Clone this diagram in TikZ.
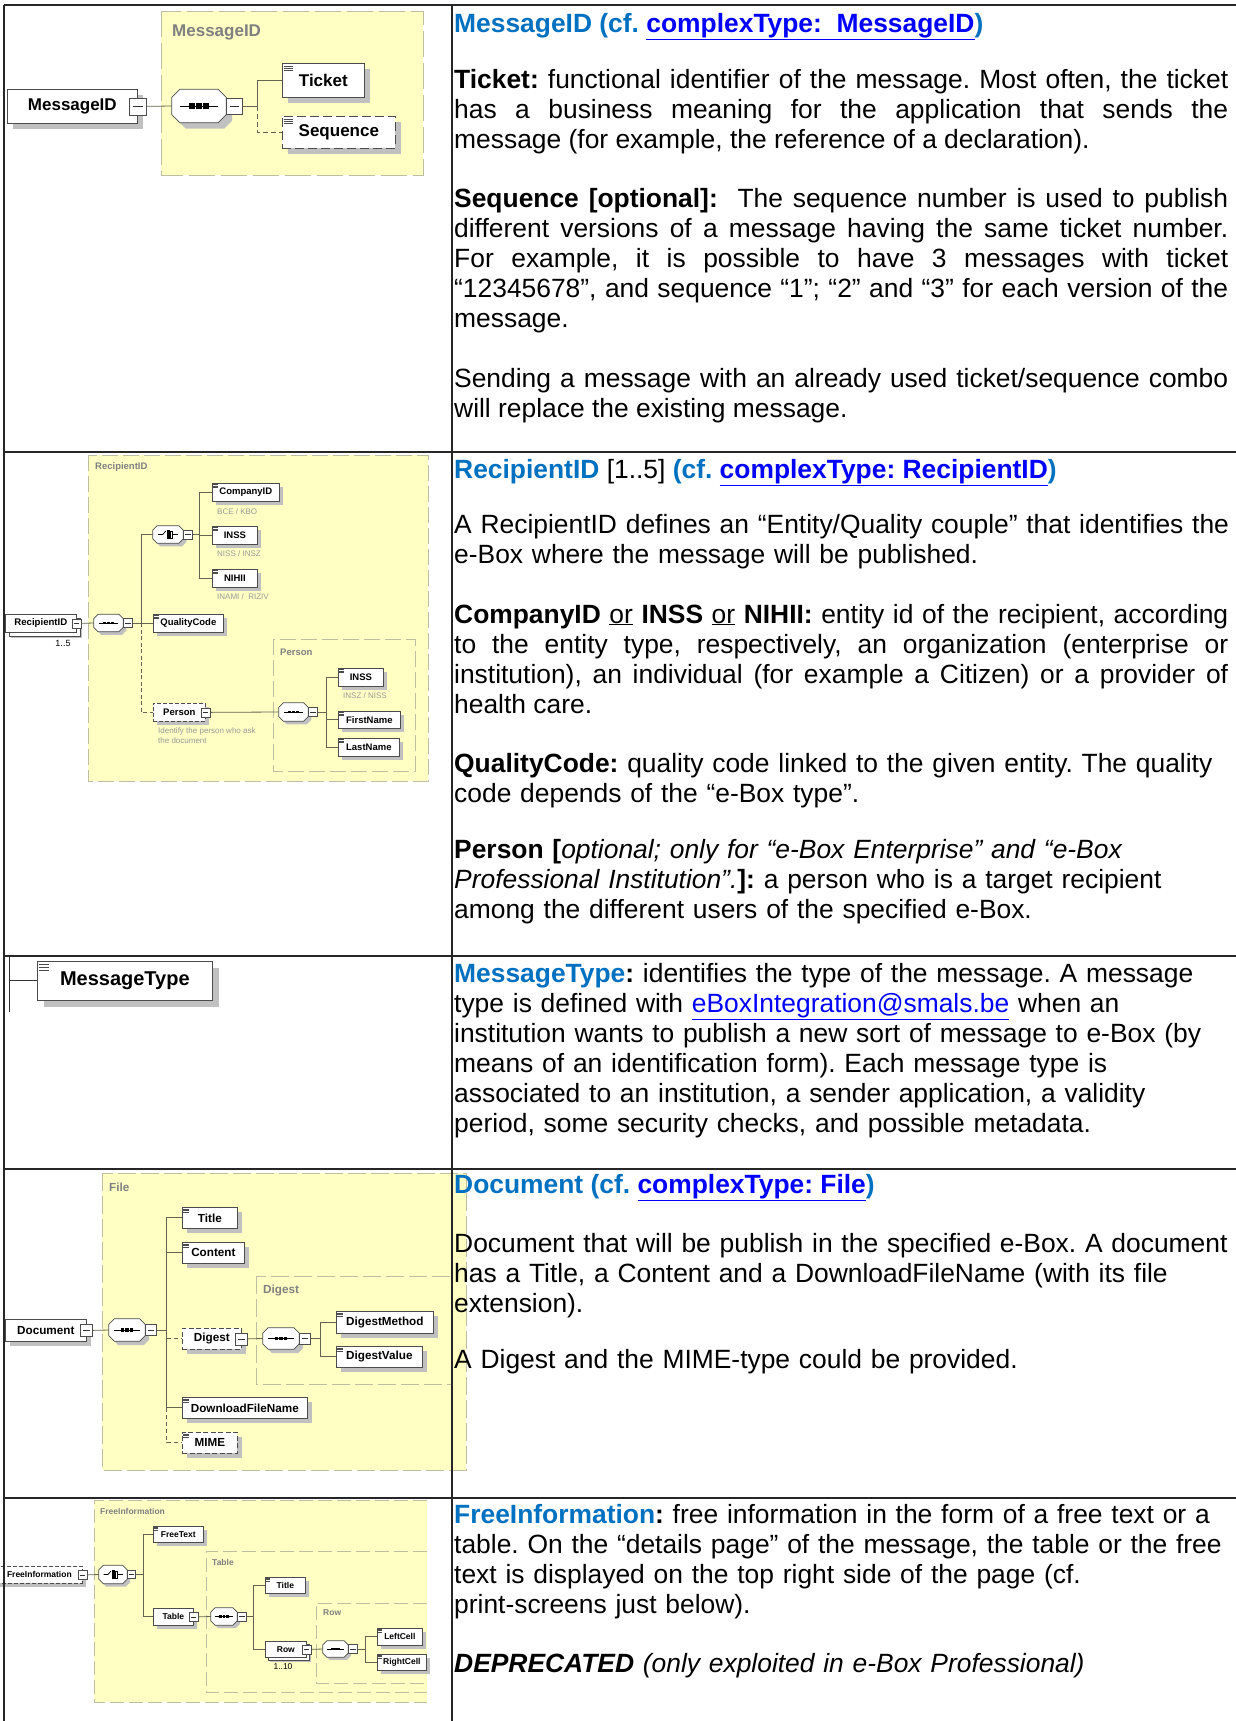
\documentclass[tikz,border=0pt]{standalone}
\usepackage{fontspec}
\setmainfont{Liberation Sans}
\usetikzlibrary{shadows,calc}
\frenchspacing
\hyphenpenalty=10000
\exhyphenpenalty=10000

\definecolor{xsdyellow}{RGB}{255,255,196}
\definecolor{xsdframe}{RGB}{190,190,160}
\definecolor{xsdline}{RGB}{100,100,80}
\definecolor{xsdshade}{RGB}{192,192,192}
\definecolor{xsdgrey}{RGB}{128,128,128}
\definecolor{titleblue}{RGB}{0,112,192}
\definecolor{linkblue}{RGB}{0,0,255}

\tikzset{
  region/.style={fill=xsdyellow, draw=xsdframe, line width=.8pt},
  subregion/.style={draw=xsdframe, line width=.8pt},
  regtitle/.style={anchor=west, inner sep=0pt, text=xsdgrey, font=\bfseries\fontsize{#1}{#1}\selectfont},
  elem/.style={draw=black!70, fill=white, line width=.7pt, inner sep=0pt, anchor=north west,
    font=\bfseries\fontsize{#1}{#1}\selectfont},
  shad/.style={drop shadow={shadow xshift=#1, shadow yshift=-#1, opacity=1, fill=xsdshade}},
  many/.style={copy shadow={shadow xshift=#1, shadow yshift=-#1, draw=black!70, fill=white, line width=.6pt}},
  minus/.style={draw=black!70, fill=white, line width=.6pt, inner sep=0pt, minimum size=#1,
    path picture={\draw[black!80, line width=.6pt]
      ($(path picture bounding box.west)!.2!(path picture bounding box.east)$) --
      ($(path picture bounding box.west)!.8!(path picture bounding box.east)$);}},
  comp/.style={inner sep=0pt},
  wire/.style={draw=xsdline, line width=.8pt},
  note/.style={anchor=west, inner sep=0pt, text=black!40, font=\fontsize{#1}{#1}\selectfont},
  count/.style={inner sep=0pt, font=\fontsize{#1}{#1}\selectfont},
  tbl/.style={line width=2pt, black!85},
  para/.style={anchor=base west, inner sep=0pt, text width=774pt, align=justify,
    font=\fontsize{26.4}{30}\selectfont},
  ragged/.style={para, text width=900pt, align=left},
}

% three-bar mark of a simple element
\newcommand\eqm[2]{%
  \begin{scope}[shift={(#1.north west)}, scale=#2]
    \foreach \k in {0,1,2}
      \draw[black!70, line width=.5pt] (1.5,3+2.3*\k) -- (10.5,3+2.3*\k);
  \end{scope}}
% octagon of a compositor: node, chamfer, scale
\newcommand\compbox[3]{%
  \filldraw[draw=black!70, fill=white, line width=.7pt,
    drop shadow={shadow xshift=6pt*#3, shadow yshift=-6pt*#3, opacity=1, fill=xsdshade}]
    ([xshift=#2]#1.north west) -- ([xshift=-#2]#1.north east) -- ([yshift=-#2]#1.north east)
    -- ([yshift=#2]#1.south east) -- ([xshift=-#2]#1.south east) -- ([xshift=#2]#1.south west)
    -- ([yshift=#2]#1.south west) -- ([yshift=-#2]#1.north west) -- cycle;}
\newcommand\seqsym[3]{%
  \compbox{#1}{#2}{#3}
  \begin{scope}[shift={(#1.center)}, scale=#3]
    \draw[black, line width=.7pt] (-19,0) -- (19,0);
    \foreach \q in {-7,0,7}
      \fill[black] (\q-2.7,-2.7) rectangle (\q+2.7,2.7);
  \end{scope}}
\newcommand\choicesym[3]{%
  \compbox{#1}{#2}{#3}
  \begin{scope}[shift={(#1.center)}, scale=#3]
    \draw[black, line width=.7pt] (-19,0) -- (-10,0) -- (-4,-7);
    \draw[black, line width=.7pt] (-1,-9) -- (-1,9);
    \foreach \q in {-6,0,6}
      \fill[black] (-1,\q-2.4) rectangle (4,\q+2.4);
    \draw[black, line width=.7pt] (4,-7) rectangle (8,7);
    \draw[black, line width=.7pt] (8,0) -- (19,0);
  \end{scope}}

\begin{document}
\begin{tikzpicture}[x=1pt, y=-1pt]
  \useasboundingbox (0,0) rectangle (1236,1721);

  % ---- MessageID
  \filldraw[region, dash pattern=on 26pt off 6pt] (161,11) rectangle (423,175);
  \node[regtitle=17] (msgT) at (172,32) {MessageID};
  \node[elem=17, shad=6pt, minimum width=130pt, minimum height=34pt] (msg) at (7,89) {MessageID\hspace{8pt}};
  \node[minus=17pt] (msgM) at (msg.east) {};
  \node[comp, minimum width=54pt, minimum height=33pt] (msgS) at (199,106) {};
  \seqsym{msgS}{8pt}{1}
  \node[minus=16pt, anchor=west] (msgSM) at (msgS.east) {};
  \node[elem=17, shad=6pt, minimum width=82pt, minimum height=34pt] (ticket) at (282,63) {Ticket};
  \eqm{ticket}{1}
  \node[elem=17, shad=6pt, dash pattern=on 9pt off 4pt, minimum width=113pt, minimum height=32pt] (sqn) at (282,116) {Sequence};
  \eqm{sqn}{1}
  \draw[wire] (msgM.east) -- (msgS.west);
  \draw[wire] (msgSM.east) -- ++(15,0) coordinate (busA) |- (ticket.west);
  \draw[wire, dash pattern=on 5pt off 3pt] (busA) |- (sqn.west);

  % ---- RecipientID
  \filldraw[region, dash pattern=on 16pt off 5pt] (88,455) rectangle (428,781);
  \node[regtitle=9.5] (ridT) at (95,467) {RecipientID};
  \draw[subregion, dash pattern=on 16pt off 5pt] (273,639) rectangle (415,771);
  \node[regtitle=9.5] (perT) at (280,652) {Person};
  \node[elem=9.6, shad=6pt, many=3.5pt, minimum width=71pt, minimum height=18pt] (rid) at (5,614) {RecipientID};
  \node[minus=9pt] (ridM) at (rid.east) {};
  \node[count=9] (ridN) at (63,643) {1..5};
  \node[comp, minimum width=29pt, minimum height=17pt] (ridS) at (108.5,623) {};
  \seqsym{ridS}{4.2pt}{.52}
  \node[minus=9pt, anchor=west] (ridSM) at (ridS.east) {};
  \node[comp, minimum width=30pt, minimum height=17pt] (ridC) at (168,534.5) {};
  \choicesym{ridC}{4.2pt}{.52}
  \node[minus=9pt, anchor=west] (ridCM) at (ridC.east) {};
  \node[elem=9.5, shad=4pt, minimum width=67pt, minimum height=18pt] (cid) at (212,483) {CompanyID};
  \eqm{cid}{.55}
  \node[note=8] (cidN) at (217,512) {BCE / KBO};
  \node[elem=9.5, shad=4pt, minimum width=45pt, minimum height=18pt] (inss) at (212,526) {INSS};
  \eqm{inss}{.55}
  \node[note=8] (inssN) at (217,554) {NISS / INSZ};
  \node[elem=9.5, shad=4pt, minimum width=45pt, minimum height=18pt] (nihii) at (212,569) {NIHII};
  \eqm{nihii}{.55}
  \node[note=8] (nihiiN) at (217,597) {INAMI /\ \ RIZIV};
  \node[elem=9.5, shad=4pt, minimum width=70pt, minimum height=18pt] (qcode) at (153,614) {QualityCode};
  \eqm{qcode}{.55}
  \node[elem=9.5, shad=4pt, dash pattern=on 4pt off 2pt, minimum width=52pt, minimum height=18pt] (pers) at (153,703) {Person};
  \node[minus=9pt] (persM) at (pers.east) {};
  \node[note=8] (persN1) at (158,731) {Identify the person who ask};
  \node[note=8] (persN2) at (158,741) {the document};
  \node[comp, minimum width=29pt, minimum height=18pt] (persS) at (293.5,712) {};
  \seqsym{persS}{4.5pt}{.52}
  \node[minus=9pt, anchor=west] (persSM) at (persS.east) {};
  \node[elem=9.5, shad=4pt, minimum width=45pt, minimum height=18pt] (pinss) at (338,668) {INSS};
  \eqm{pinss}{.55}
  \node[note=8] (pinssN) at (343,696) {INSZ / NISS};
  \node[elem=9.5, shad=4pt, minimum width=62pt, minimum height=17pt] (fname) at (338,711) {FirstName};
  \eqm{fname}{.55}
  \node[elem=9.5, shad=4pt, minimum width=61pt, minimum height=18pt] (lname) at (338,738) {LastName};
  \eqm{lname}{.55}
  \draw[wire] (ridM.east) -- (ridS.west);
  \draw[wire] (ridSM.east) -- ++(9,0) coordinate (busB) |- (ridC.west);
  \draw[wire] (busB) |- (qcode.west);
  \draw[wire, dash pattern=on 4pt off 2.5pt] (busB) |- (pers.west);
  \draw[wire] (ridCM.east) -- ++(7,0) coordinate (busC) |- (cid.west);
  \draw[wire] (busC) |- (inss.west);
  \draw[wire] (busC) |- (nihii.west);
  \draw[wire] (persM.east) -- (persS.west);
  \draw[wire] (persSM.east) -- ++(9,0) coordinate (busD) |- (pinss.west);
  \draw[wire] (busD) |- (fname.west);
  \draw[wire] (busD) |- (lname.west);

  % ---- MessageType
  \coordinate (mtTop) at (9,956);
  \coordinate (mtBot) at (9,1012);
  \node[elem=20, shad=7pt, minimum width=175pt, minimum height=39pt] (mtype) at (37,961) {MessageType};
  \eqm{mtype}{1.15}
  \draw[wire, black!80] (mtTop) -- (mtBot);
  \draw[wire, black!80] (mtTop |- mtype.west) -- (mtype.west);

  % ---- Document
  \filldraw[region, dash pattern=on 18pt off 5pt] (102,1173) rectangle (466,1470);
  \node[regtitle=11.7] (fileT) at (109,1187) {File};
  \draw[subregion, dash pattern=on 18pt off 5pt] (256,1276) rectangle (452,1384);
  \node[regtitle=11.7] (digT) at (263,1290) {Digest};
  \node[elem=11.7, shad=5pt, minimum width=81pt, minimum height=22pt] (doc) at (5,1319) {Document};
  \node[minus=12pt] (docM) at (doc.east) {};
  \node[comp, minimum width=36pt, minimum height=22pt] (docS) at (127,1330) {};
  \seqsym{docS}{5.5pt}{.66}
  \node[minus=11pt, anchor=west] (docSM) at (docS.east) {};
  \node[elem=11.7, shad=5pt, minimum width=55pt, minimum height=21pt] (ftitle) at (182,1207) {Title};
  \eqm{ftitle}{.65}
  \node[elem=11.7, shad=5pt, minimum width=62pt, minimum height=21pt] (fcont) at (182,1242) {Content};
  \eqm{fcont}{.65}
  \node[elem=11.7, shad=5pt, dash pattern=on 5pt off 2.5pt, minimum width=59pt, minimum height=21pt] (dig) at (182,1328) {Digest};
  \node[minus=12pt] (digM) at (dig.east) {};
  \node[comp, minimum width=36pt, minimum height=21pt] (digS) at (281,1338.5) {};
  \seqsym{digS}{5.2pt}{.66}
  \node[minus=11pt, anchor=west] (digSM) at (digS.east) {};
  \node[elem=11.7, shad=5pt, minimum width=97pt, minimum height=22pt] (dmeth) at (336,1311) {DigestMethod};
  \eqm{dmeth}{.65}
  \node[elem=11.7, shad=5pt, minimum width=86pt, minimum height=21pt] (dval) at (336,1346) {DigestValue};
  \eqm{dval}{.65}
  \node[elem=11.7, shad=5pt, minimum width=125pt, minimum height=21pt] (dfn) at (182,1397) {DownloadFileName};
  \eqm{dfn}{.65}
  \node[elem=11.7, shad=5pt, dash pattern=on 5pt off 2.5pt, minimum width=55pt, minimum height=21pt] (mime) at (182,1432) {MIME};
  \eqm{mime}{.65}
  \draw[wire] (docM.east) -- (docS.west);
  \draw[wire] (docSM.east) -- ++(10,0) coordinate (busF) |- (ftitle.west);
  \draw[wire] (busF) |- (fcont.west);
  \draw[wire] (busF) |- (dfn.west);
  \draw[wire, dash pattern=on 4pt off 3pt] (busF |- dig.west) -- (dig.west);
  \draw[wire, dash pattern=on 4pt off 3pt] (busF |- dfn.west) |- (mime.west);
  \draw[wire] (digM.east) -- (digS.west);
  \draw[wire] (digSM.east) -- ++(10,0) coordinate (busG) |- (dmeth.west);
  \draw[wire] (busG) |- (dval.west);

  % ---- FreeInformation
  \fill[xsdyellow] (94,1500) rectangle (427,1702);
  \draw[subregion, dash pattern=on 14pt off 5pt] (427,1500) -- (94,1500) -- (94,1702) -- (427,1702);
  \node[regtitle=8.5] (finT) at (100,1511) {FreeInformation};
  \draw[subregion, dash pattern=on 14pt off 5pt] (427,1551) -- (206,1551) -- (206,1692) -- (427,1692);
  \node[regtitle=8.5] (tabT) at (212,1562) {Table};
  \draw[subregion, dash pattern=on 14pt off 5pt] (427,1603) -- (316,1603) -- (316,1683) -- (427,1683);
  \node[regtitle=8.5] (rowT) at (323,1613) {Row};
  \node[elem=8.5, shad=3.5pt, dash pattern=on 4pt off 2pt, minimum width=86pt, minimum height=17pt] (finfo) at (-4,1566) {FreeInformation};
  \node[minus=9pt] (finfoM) at (finfo.east) {};
  \node[comp, minimum width=28pt, minimum height=18pt] (finC) at (113,1574.5) {};
  \choicesym{finC}{4.5pt}{.5}
  \node[minus=8pt, anchor=west] (finCM) at (finC.east) {};
  \node[elem=8.5, shad=3.5pt, minimum width=50pt, minimum height=16pt] (ftext) at (153,1526) {FreeText};
  \eqm{ftext}{.5}
  \node[elem=8.5, shad=3.5pt, minimum width=40pt, minimum height=17pt] (ftab) at (153,1608) {Table};
  \node[minus=9pt] (ftabM) at (ftab.east) {};
  \node[comp, minimum width=26pt, minimum height=17pt] (tabS) at (224,1616.5) {};
  \seqsym{tabS}{4.2pt}{.48}
  \node[minus=9pt, anchor=west] (tabSM) at (tabS.east) {};
  \node[elem=8.5, shad=3.5pt, minimum width=40pt, minimum height=16pt] (ttitle) at (265,1577) {Title};
  \eqm{ttitle}{.5}
  \node[elem=8.5, shad=5pt, many=3pt, minimum width=41pt, minimum height=16pt] (trow) at (265,1641) {Row\hspace{6pt}};
  \node[minus=9pt] (trowM) at (trow.east) {};
  \node[count=8.5] (trowN) at (283,1667) {1..10};
  \node[comp, minimum width=25pt, minimum height=16pt] (rowS) at (335.5,1649) {};
  \seqsym{rowS}{4pt}{.46}
  \node[minus=9pt, anchor=west] (rowSM) at (rowS.east) {};
  \node[elem=8.5, shad=3.5pt, minimum width=45pt, minimum height=17pt] (lcell) at (377,1628) {LeftCell};
  \eqm{lcell}{.5}
  \node[elem=8.5, shad=3.5pt, minimum width=49pt, minimum height=16pt] (rcell) at (377,1654) {RightCell};
  \eqm{rcell}{.5}
  \draw[wire] (finfoM.east) -- (finC.west);
  \draw[wire] (finCM.east) -- ++(8,0) coordinate (busH) |- (ftext.west);
  \draw[wire] (busH) |- (ftab.west);
  \draw[wire] (ftabM.east) -- (tabS.west);
  \draw[wire] (tabSM.east) -- ++(7,0) coordinate (busI) |- (ttitle.west);
  \draw[wire] (busI) |- (trow.west);
  \draw[wire] (trowM.east) -- (rowS.west);
  \draw[wire] (rowSM.east) -- ++(8,0) coordinate (busJ) |- (lcell.west);
  \draw[wire] (busJ) |- (rcell.west);

  % ---- table rules
  \draw[tbl] (4,4.5) -- (1236,4.5);
  \draw[tbl] (4,4.5) -- (4,1721);
  \draw[tbl] (452,4.5) -- (452,1721);
  \foreach \r in {452,955.5,1169,1497.5}
    \draw[tbl] (4,\r) -- (1236,\r);

  % ---- descriptions
  \node[para] (t1) at (454,32) {\bfseries\color{titleblue}MessageID (cf. {\color{linkblue}\underline{complexType:\ \ MessageID}})};
  \node[para] (p1a) at (454,88) {\textbf{Ticket:} functional identifier of the message. Most often, the ticket\linebreak has a business meaning for the application that sends the\linebreak message (for example, the reference of a declaration).};
  \node[para] (p1b) at (454,207) {\textbf{Sequence [optional]:}\ \ The sequence number is used to publish\linebreak different versions of a message having the same ticket number.\linebreak For example, it is possible to have 3 messages with ticket\linebreak “12345678”, and sequence “1”; “2” and “3” for each version of the\linebreak message.};
  \node[para] (p1c) at (454,387) {Sending a message with an already used ticket/sequence combo\linebreak will replace the existing message.};

  \node[para] (t2) at (454,478) {{\bfseries\color{titleblue}RecipientID} [1..5] {\bfseries\color{titleblue}(cf. {\color{linkblue}\underline{complexType: RecipientID}})}};
  \node[ragged] (p2a) at (454,533) {A RecipientID defines an “Entity/Quality couple” that identifies the\\e-Box where the message will be published.};
  \node[para] (p2b) at (454,623) {\textbf{CompanyID} \underline{or} \textbf{INSS} \underline{or} \textbf{NIHII:} entity id of the recipient, according\linebreak to the entity type, respectively, an organization (enterprise or\linebreak institution), an individual (for example a Citizen) or a provider of\linebreak health care.};
  \node[ragged] (p2c) at (454,772) {\textbf{QualityCode:} quality code linked to the given entity. The quality\\code depends of the “e-Box type”.};
  \node[ragged] (p2d) at (454,858) {\textbf{Person [}\textit{optional; only for “e-Box Enterprise” and “e-Box}\\\textit{Professional Institution”.}\textbf{]:} a person who is a target recipient\\among the different users of the specified e-Box.};

  \node[ragged] (p3) at (454,982) {{\bfseries\color{titleblue}MessageType}\textbf{:} identifies the type of the message. A message\\type is defined with {\color{linkblue}\underline{eBoxIntegration@smals.be}} when an\\institution wants to publish a new sort of message to e-Box (by\\means of an identification form). Each message type is\\associated to an institution, a sender application, a validity\\period, some security checks, and possible metadata.};

  \node[para] (t4) at (454,1193) {\bfseries\color{titleblue}Document (cf. {\color{linkblue}\underline{complexType: File}})};
  \node[ragged] (p4a) at (454,1252) {Document that will be publish in the specified e-Box. A document\\has a Title, a Content and a DownloadFileName (with its file\\extension).};
  \node[ragged] (p4b) at (454,1368) {A Digest and the MIME-type could be provided.};

  \node[ragged] (p5a) at (454,1523) {{\bfseries\color{titleblue}FreeInformation}\textbf{:} free information in the form of a free text or a\\table. On the “details page” of the message, the table or the free\\text is displayed on the top right side of the page (cf.\\print-screens just below).};
  \node[ragged] (p5b) at (454,1672) {\textbf{\textit{DEPRECATED}} \textit{(only exploited in e-Box Professional)}};
\end{tikzpicture}
\end{document}
